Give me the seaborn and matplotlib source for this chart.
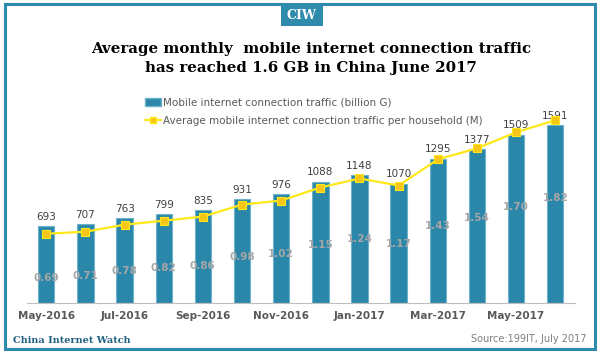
import matplotlib.pyplot as plt
import matplotlib.patches as mpatches
from matplotlib.lines import Line2D
import seaborn as sns
import pandas as pd
import numpy as np

# Dados
meses = ['May-2016', 'Jun-2016', 'Jul-2016', 'Aug-2016', 'Sep-2016', 'Oct-2016', 'Nov-2016',
         'Dec-2016', 'Jan-2017', 'Feb-2017', 'Mar-2017', 'Apr-2017', 'May-2017', 'Jun-2017']
trafego_total = [693, 707, 763, 799, 835, 931, 976, 1088, 1148, 1070, 1295, 1377, 1509, 1591]
trafego_domicilio = [0.69, 0.71, 0.78, 0.82, 0.86, 0.98, 1.02, 1.15, 1.24, 1.17, 1.43, 1.54, 1.70, 1.82]
rotulos_x = ['May-2016', '', 'Jul-2016', '', 'Sep-2016', '', 'Nov-2016', '',
             'Jan-2017', '', 'Mar-2017', '', 'May-2017', '']

AZUL = '#2b87a9'
AMARELO = '#ffe81a'
MARCADOR = '#f6c619'
CINZA = '#595959'

sns.set_style("white")
plt.rcParams['font.family'] = ['DejaVu Sans']

df = pd.DataFrame({'MES': meses, 'TOTAL': trafego_total, 'DOMICILIO': trafego_domicilio})

fig = plt.figure(figsize=(6, 3.53), dpi=100)
ax = fig.add_axes([0.0445, 0.1416, 0.9135, 0.569])

sns.barplot(data=df, x='MES', y='TOTAL', color=AZUL, width=0.42,
            edgecolor='#6cb2cb', linewidth=0.8, saturation=1, ax=ax)
ax.set_ylim(0, 1800)
ax.set_xlim(-0.5, len(meses) - 0.5)

for i, v in enumerate(trafego_total):
    ax.annotate(f'{v}', (i, v), xytext=(0, 3), textcoords='offset points',
                ha='center', va='bottom', fontsize=7.5, color='#404040')

ax2 = ax.twinx()
sns.lineplot(x=np.arange(len(meses)), y=trafego_domicilio, color=AMARELO, linewidth=1.6,
             marker='s', markersize=6, markerfacecolor=MARCADOR, markeredgecolor=AMARELO,
             markeredgewidth=0.8, ax=ax2)
ax2.set_ylim(0, 2.0)

# rótulos cinza da série de domicílios, dentro das barras
for i, v in enumerate(trafego_domicilio):
    ax2.text(i, 0.7 * v - 0.23, f'{v:.2f}', ha='center', va='center',
             fontsize=7.5, color='#a6a6a6', fontweight='bold')

for a in (ax, ax2):
    for s in ['top', 'right', 'left']:
        a.spines[s].set_visible(False)
    a.set_yticks([])
    a.set_ylabel('')
ax2.spines['bottom'].set_visible(False)
ax.spines['bottom'].set_color('#bfbfbf')
ax.set_xlabel('')
ax.set_xticks(range(len(meses)))
ax.set_xticklabels(rotulos_x, fontsize=7.5, color=CINZA, fontweight='bold')
ax.tick_params(axis='x', length=0, pad=6)

# Legenda
handles = [mpatches.Patch(facecolor=AZUL, edgecolor='#6cb2cb'),
           Line2D([], [], color=AMARELO, marker='s', markersize=5,
                  markerfacecolor=MARCADOR, markeredgecolor=AMARELO, linewidth=1.6)]
labels = ['Mobile internet connection traffic (billion G)',
          'Average mobile internet connection traffic per household (M)']
fig.legend(handles, labels, loc='upper left', bbox_to_anchor=(0.235, 0.735),
           frameon=False, fontsize=7.5, labelcolor=CINZA, handlelength=1.5,
           handletextpad=0.2, labelspacing=0.75, borderaxespad=0)

# Título
fig.text(0.519, 0.835, 'Average monthly  mobile internet connection traffic\nhas reached 1.6 GB in China June 2017',
         ha='center', va='center', fontsize=10.8, fontweight='bold',
         family='DejaVu Serif', color='#000000', linespacing=1.45)

# Moldura e logotipo
fig.patches.append(mpatches.Rectangle((0.009, 0.011), 0.982, 0.977, transform=fig.transFigure,
                                      fill=False, edgecolor='#2f8bab', linewidth=2.2))
fig.patches.append(mpatches.Rectangle((0.468, 0.925), 0.070, 0.063, transform=fig.transFigure,
                                      facecolor='#2f8bab', edgecolor='none'))
fig.text(0.503, 0.955, 'CIW', ha='center', va='center', color='white', fontsize=9,
         fontweight='bold', family='DejaVu Serif')

fig.text(0.022, 0.035, 'China Internet Watch', ha='left', va='center', fontsize=7,
         fontweight='bold', family='DejaVu Serif', color='#1f5f80')
fig.text(0.978, 0.04, 'Source:199IT, July 2017', ha='right', va='center', fontsize=7,
         color='#7f7f7f')

fig.savefig('out.png', dpi=100)
